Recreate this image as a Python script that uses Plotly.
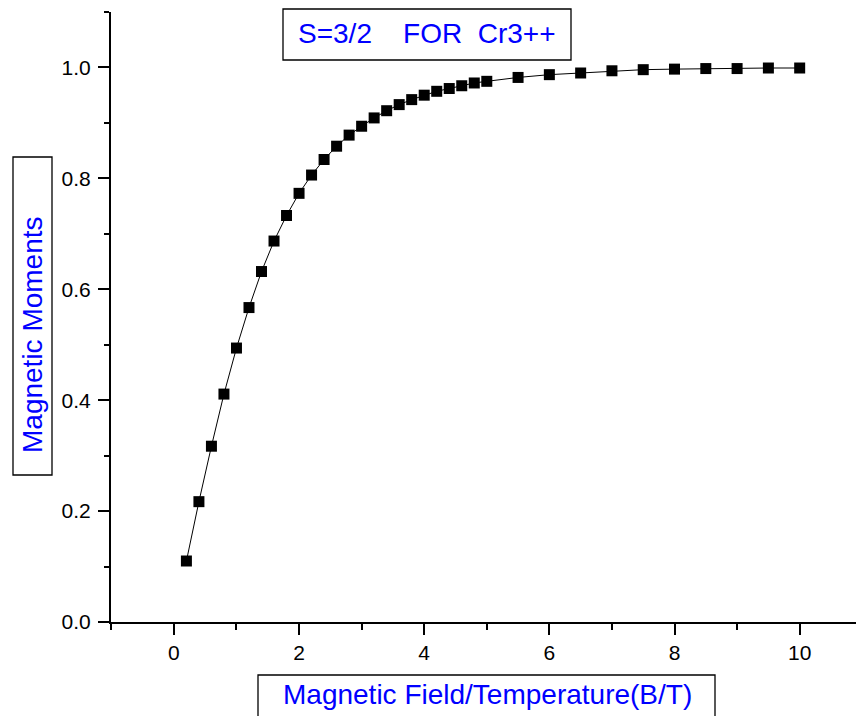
import plotly.graph_objects as go

# Data
field_over_temp = [0.2, 0.4, 0.6, 0.8, 1.0, 1.2, 1.4, 1.6, 1.8, 2.0, 2.2, 2.4, 2.6, 2.8, 3.0,
                   3.2, 3.4, 3.6, 3.8, 4.0, 4.2, 4.4, 4.6, 4.8, 5.0,
                   5.5, 6.0, 6.5, 7.0, 7.5, 8.0, 8.5, 9.0, 9.5, 10.0]
magnetic_moments = [0.110, 0.217, 0.317, 0.411, 0.494, 0.567, 0.632, 0.687, 0.733, 0.773,
                    0.806, 0.834, 0.858, 0.878, 0.894, 0.909, 0.922, 0.933, 0.942, 0.950,
                    0.957, 0.962, 0.967, 0.972, 0.975, 0.982, 0.987, 0.990, 0.994, 0.996,
                    0.997, 0.998, 0.998, 0.999, 0.999]
x_tick_vals = [0, 2, 4, 6, 8, 10]
y_tick_vals = [0.0, 0.2, 0.4, 0.6, 0.8, 1.0]
y_tick_text = ["0.0", "0.2", "0.4", "0.6", "0.8", "1.0"]

title_text = "S=3/2&nbsp;&nbsp;&nbsp;&nbsp;FOR&nbsp;&nbsp;Cr3++"
x_title = "Magnetic Field/Temperature(B/T)"
y_title = "Magnetic Moments"

W, H = 856, 716
L, R, T, B = 111, 0, 12, 94
PW, PH = W - L - R, H - T - B

def px(x):
    return (x - L) / PW

def py(y):
    return (H - B - y) / PH

FONT = "Liberation Sans, Arial, sans-serif"

fig = go.Figure()
fig.add_trace(go.Scatter(
    x=field_over_temp, y=magnetic_moments, mode="lines+markers",
    line=dict(color="black", width=1),
    marker=dict(symbol="square", size=11, color="black"),
    showlegend=False, cliponaxis=False,
))

axis_common = dict(
    showline=True, linecolor="black", linewidth=2, ticks="outside",
    tickcolor="black", tickwidth=2, ticklen=11, showgrid=False, zeroline=False,
    tickfont=dict(family=FONT, size=21, color="black"),
)

fig.update_xaxes(range=[-1.005, 10.9], tickvals=x_tick_vals, ticklabelstandoff=0,
                 minor=dict(dtick=1, tick0=1, ticks="outside", ticklen=6, tickwidth=2, tickcolor="black"),
                 **axis_common)
fig.update_yaxes(range=[0, 1.1], tickvals=y_tick_vals, ticktext=y_tick_text, ticklabelstandoff=3,
                 minor=dict(dtick=0.1, tick0=0, ticks="outside", ticklen=5, tickwidth=2, tickcolor="black"),
                 **axis_common)

shapes = [
    dict(type="rect", xref="paper", yref="paper", x0=px(283), x1=px(571), y0=py(9), y1=py(60),
         line=dict(color="black", width=1.3)),
    dict(type="rect", xref="paper", yref="paper", x0=px(13), x1=px(52), y0=py(157), y1=py(475),
         line=dict(color="black", width=1.3)),
    dict(type="rect", xref="paper", yref="paper", x0=px(258), x1=px(715), y0=py(675), y1=py(730),
         line=dict(color="black", width=1.3)),
]
annotations = [
    dict(text=title_text, xref="paper", yref="paper", x=px(427), y=py(33),
         xanchor="center", yanchor="middle", showarrow=False,
         font=dict(family=FONT, size=28, color="#0000FF")),
    dict(text=x_title, xref="paper", yref="paper", x=px(487), y=py(694),
         xanchor="center", yanchor="middle", showarrow=False,
         font=dict(family=FONT, size=28, color="#0000FF")),
    dict(text=y_title, xref="paper", yref="paper", x=px(32), y=py(335), textangle=-90,
         xanchor="center", yanchor="middle", showarrow=False,
         font=dict(family=FONT, size=28, color="#0000FF")),
]

fig.update_layout(
    width=W, height=H, margin=dict(l=L, r=R, t=T, b=B),
    paper_bgcolor="white", plot_bgcolor="white",
    shapes=shapes, annotations=annotations,
)

fig.write_html("out.html")
